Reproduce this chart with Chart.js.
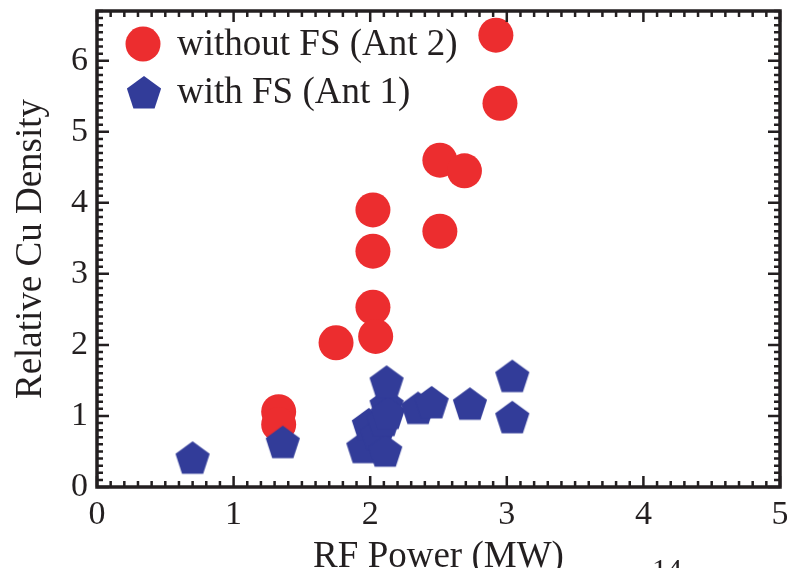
<!DOCTYPE html>
<html>
<head>
<meta charset="utf-8">
<title>Relative Cu Density vs RF Power</title>
<script src="https://cdn.jsdelivr.net/npm/chart.js@4.4.1/dist/chart.umd.min.js"></script>
<style>
  html, body { margin: 0; padding: 0; background: #fff; }
</style>
</head>
<body>
<canvas id="myChart" width="787" height="568"></canvas>
<script>
// Antenna 2, no Faraday screen
const powerNoFS = [2.92, 2.95, 2.51, 2.69, 2.51, 2.02, 2.02, 2.02, 2.04, 1.75, 1.33, 1.33];
const cuNoFS    = [6.36, 5.40, 4.60, 4.45, 3.60, 3.90, 3.32, 2.53, 2.12, 2.03, 1.06, 0.88];

// Antenna 1, with Faraday screen
const powerFS = [0.70, 1.36, 1.95, 1.99, 2.05, 2.11, 2.10, 2.12, 2.13, 2.12, 2.35, 2.45, 2.73, 3.04, 3.04];
const cuFS    = [0.39, 0.61, 0.54, 0.86, 0.72, 0.49, 0.92, 1.14, 1.02, 1.46, 1.09, 1.17, 1.15, 1.54, 0.96];

const xTicks = [0, 1, 2, 3, 4, 5];
const yTicks = [0, 1, 2, 3, 4, 5, 6];

const RED = '#EC2D2F';
const BLUE = '#323C99';
const INK = '#231F20';
const SERIF = '"Liberation Serif", "Times New Roman", serif';

// pentagon marker as an image point style
function makePentagon(r, color) {
  const c = document.createElement('canvas');
  const size = Math.ceil(r * 2 + 2);
  c.width = size; c.height = size;
  const g = c.getContext('2d');
  g.fillStyle = color;
  g.beginPath();
  for (let k = 0; k < 5; k++) {
    const a = -Math.PI / 2 + k * 2 * Math.PI / 5;
    const px = size / 2 + r * Math.cos(a);
    const py = size / 2 + r * Math.sin(a);
    if (k === 0) g.moveTo(px, py); else g.lineTo(px, py);
  }
  g.closePath();
  g.fill();
  return c;
}
const pentagon = makePentagon(18, BLUE);

function zip(xs, ys) {
  return xs.map((x, i) => ({x: x, y: ys[i]}));
}

// box frame with inward major/minor ticks on all four sides
const frame = {
  id: 'frame',
  afterDatasetsDraw(chart) {
    const {ctx, chartArea: a, scales: {x, y}} = chart;
    ctx.save();
    ctx.strokeStyle = INK;
    ctx.lineWidth = 2.5;
    ctx.beginPath();
    for (let i = 0; i <= 50; i++) {
      const v = i / 10;
      const px = x.getPixelForValue(v);
      const len = i % 10 === 0 ? 11 : 6;
      ctx.moveTo(px, a.bottom); ctx.lineTo(px, a.bottom - len);
      ctx.moveTo(px, a.top); ctx.lineTo(px, a.top + len);
    }
    for (let i = 0; i <= 67; i++) {
      const v = i / 10;
      const py = y.getPixelForValue(v);
      const len = i % 10 === 0 ? 12 : 6;
      ctx.moveTo(a.left, py); ctx.lineTo(a.left + len, py);
      ctx.moveTo(a.right, py); ctx.lineTo(a.right - len, py);
    }
    ctx.stroke();
    ctx.lineWidth = 3.5;
    ctx.strokeRect(a.left, a.top, a.right - a.left, a.bottom - a.top);
    ctx.restore();
  }
};

// legend in the upper left corner of the plot
const antLegend = {
  id: 'antLegend',
  afterDatasetsDraw(chart) {
    const ctx = chart.ctx;
    const rows = [
      {ds: chart.data.datasets[0], mx: 143, my: 44, ty: 55},
      {ds: chart.data.datasets[1], mx: 144, my: 94, ty: 103}
    ];
    ctx.save();
    rows.forEach(r => {
      ctx.fillStyle = r.ds.backgroundColor;
      Chart.helpers.drawPoint(ctx, {pointStyle: r.ds.pointStyle, radius: r.ds.pointRadius, borderWidth: 0, rotation: 0}, r.mx, r.my);
      ctx.fillStyle = INK;
      ctx.font = '37px ' + SERIF;
      ctx.textAlign = 'left';
      ctx.textBaseline = 'alphabetic';
      ctx.fillText(r.ds.label, 177, r.ty);
    });
    // exponent peeking in from below
    ctx.font = '30px ' + SERIF;
    ctx.textAlign = 'center';
    ctx.textBaseline = 'top';
    ctx.fillText('14', 667, 556);
    ctx.restore();
  }
};

new Chart(document.getElementById('myChart'), {
  type: 'scatter',
  data: {
    datasets: [{
      label: 'without FS (Ant 2)',
      data: zip(powerNoFS, cuNoFS),
      pointStyle: 'circle',
      pointRadius: 17.5,
      pointHoverRadius: 17.5,
      backgroundColor: RED,
      borderWidth: 0,
      order: 2
    }, {
      label: 'with FS (Ant 1)',
      data: zip(powerFS, cuFS),
      pointStyle: pentagon,
      pointRadius: 18,
      pointHoverRadius: 18,
      backgroundColor: BLUE,
      borderWidth: 0,
      order: 1
    }]
  },
  plugins: [frame, antLegend],
  options: {
    responsive: false,
    animation: false,
    events: [],
    layout: { autoPadding: false, padding: { top: 11, right: 7, left: 0, bottom: 0 } },
    plugins: { legend: { display: false }, tooltip: { enabled: false } },
    scales: {
      x: {
        type: 'linear',
        min: 0,
        max: 5,
        grid: { display: false, drawTicks: false },
        border: { display: false },
        afterBuildTicks: s => { s.ticks = xTicks.map(v => ({value: v})); },
        afterFit: s => { s.height = 81; s.paddingLeft = 0; s.paddingRight = 0; },
        ticks: { color: INK, font: { family: SERIF, size: 34 }, padding: 8, maxRotation: 0 },
        title: { display: true, text: 'RF Power (MW)', color: INK,
                 font: { family: SERIF, size: 37, lineHeight: 1 }, padding: { top: 0, bottom: -8 } }
      },
      y: {
        type: 'linear',
        min: 0,
        max: 6.7,
        grid: { display: false, drawTicks: false },
        border: { display: false },
        afterBuildTicks: s => { s.ticks = yTicks.map(v => ({value: v})); },
        afterFit: s => { s.width = 97; s.paddingTop = 0; s.paddingBottom = 0; },
        ticks: { color: INK, font: { family: SERIF, size: 34 }, padding: 9 },
        title: { display: true, text: 'Relative Cu Density', color: INK,
                 font: { family: SERIF, size: 37, lineHeight: 1 }, padding: { top: 13, bottom: 0 } }
      }
    }
  }
});
</script>
</body>
</html>
